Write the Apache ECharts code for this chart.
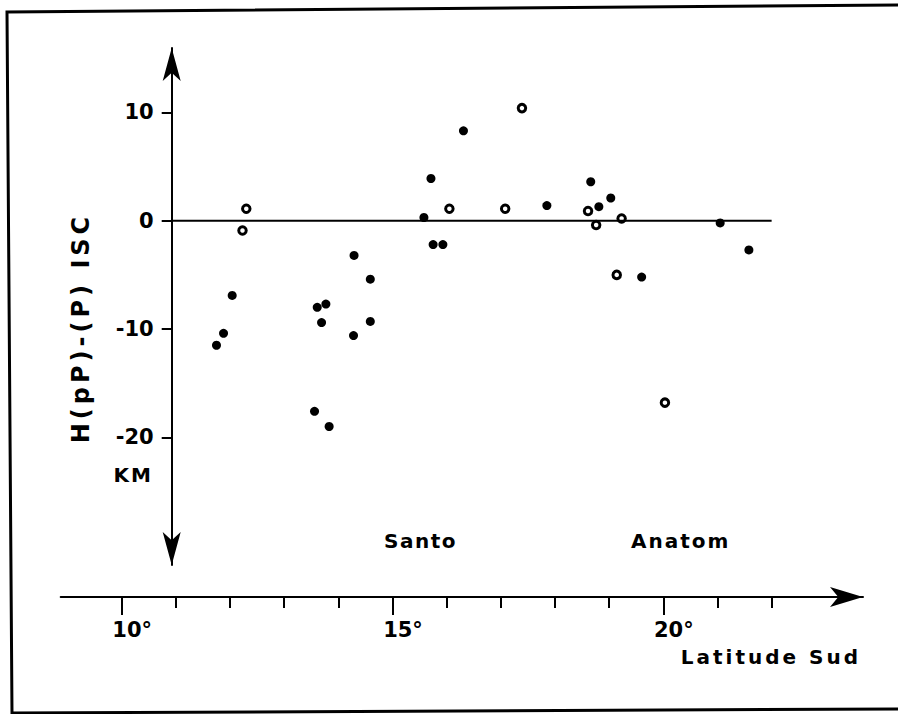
<!DOCTYPE html>
<html>
<head>
<meta charset="utf-8">
<script src="https://cdn.jsdelivr.net/npm/echarts@6/dist/echarts.min.js"></script>
<style>
html, body { margin: 0; padding: 0; background: #fff; }
#chart { width: 898px; height: 714px; }
</style>
</head>
<body>
<div id="chart"></div>
<script>
// Séismes : latitude sud (degrés) et écart H(pP)-(P) ISC (km)
const latFilled   = [11.75, 11.88, 12.04, 13.56, 13.61, 13.69, 13.77, 13.83, 14.28, 14.29, 14.59, 14.59,
                     15.58, 15.71, 15.75, 15.93, 16.31, 17.85, 18.66, 18.81, 19.03, 19.60, 21.05, 21.58];
const depthFilled = [-11.5, -10.4, -6.9, -17.6, -8.0, -9.4, -7.7, -19.0, -10.6, -3.2, -5.4, -9.3,
                     0.3, 3.9, -2.2, -2.2, 8.3, 1.4, 3.6, 1.3, 2.1, -5.2, -0.2, -2.7];
const latOpen     = [12.23, 12.30, 16.05, 17.08, 17.39, 18.61, 18.76, 19.14, 19.23, 20.03];
const depthOpen   = [-0.9, 1.1, 1.1, 1.1, 10.4, 0.9, -0.4, -5.0, 0.2, -16.8];

const latTicks    = [10, 11, 12, 13, 14, 15, 16, 17, 18, 19, 20, 21, 22];
const latLabelled = [10, 15, 20];
const depthTicks  = [-20, -10, 0, 10];
const zeroLineEnd = 22;

// axis extents (the two x axes share one scale)
const plotLatMin = 10.923, axisLatMin = 8.874, latMax = 23.687;
const depthMin = -31.79, depthMax = 15.95;

const FONT = 'DejaVu Sans';
const txt = { fontFamily: FONT, fontWeight: 'bold', color: '#000' };

// extra letter spacing for the stencil-like lettering (px)
const spacing = { 'H(pP)-(P) ISC': 4, 'Latitude Sud': 3, 'Santo': 1.5, 'Anatom': 2, 'KM': 2 };

const chart = echarts.init(document.getElementById('chart'), null, { renderer: 'svg' });

const option = {
  animation: false,
  backgroundColor: '#fff',
  grid: [
    { left: 171.7, right: 35, top: 48, bottom: 149 },
    { left: 60.7, right: 35, top: 560, bottom: 117 }
  ],
  xAxis: [
    { gridIndex: 0, type: 'value', min: plotLatMin, max: latMax, show: false },
    {
      gridIndex: 1, type: 'value', position: 'bottom', min: axisLatMin, max: latMax,
      axisLine: { show: true, lineStyle: { color: '#000', width: 2 },
                  symbol: ['none', 'arrow'], symbolSize: [15, 33] },
      axisTick: { show: true, length: 11, lineStyle: { color: '#000', width: 2 }, customValues: latTicks },
      axisLabel: { show: false },
      splitLine: { show: false }
    },
    {
      gridIndex: 1, type: 'value', position: 'bottom', min: axisLatMin, max: latMax,
      axisLine: { show: false },
      axisTick: { show: true, length: 18, lineStyle: { color: '#000', width: 2 }, customValues: latLabelled },
      axisLabel: {
        show: true, customValues: latLabelled, formatter: v => v + '°',
        fontSize: 21, margin: 22, padding: [0, 0, 0, 21], ...txt
      },
      splitLine: { show: false }
    }
  ],
  yAxis: [
    {
      gridIndex: 0, type: 'value', min: depthMin, max: depthMax,
      axisLine: { show: true, lineStyle: { color: '#000', width: 2 },
                  symbol: ['arrow', 'arrow'], symbolSize: [13.5, 33] },
      axisTick: { show: true, length: 10, lineStyle: { color: '#000', width: 2 }, customValues: depthTicks },
      axisLabel: { show: true, customValues: depthTicks, fontSize: 21, margin: 18, ...txt },
      splitLine: { show: false }
    },
    { gridIndex: 1, type: 'value', min: 0, max: 1, show: false }
  ],
  series: [
    {
      type: 'line', xAxisIndex: 0, yAxisIndex: 0, symbol: 'none', silent: true,
      data: [[plotLatMin, 0], [zeroLineEnd, 0]],
      lineStyle: { color: '#000', width: 2 }
    },
    {
      type: 'scatter', xAxisIndex: 0, yAxisIndex: 0, symbol: 'circle', symbolSize: 9,
      data: latFilled.map((x, i) => [x, depthFilled[i]]),
      itemStyle: { color: '#000', opacity: 1 }
    },
    {
      type: 'scatter', xAxisIndex: 0, yAxisIndex: 0, symbol: 'circle', symbolSize: 7.5,
      data: latOpen.map((x, i) => [x, depthOpen[i]]),
      itemStyle: { color: '#fff', borderColor: '#000', borderWidth: 3, opacity: 1 }
    }
  ],
  graphic: [
    { type: 'polyline', shape: { points: [[899, 5], [7, 12], [12, 713], [899, 709]] },
      style: { stroke: '#000', lineWidth: 3, fill: null } },
    { type: 'text', x: 81, y: 328, rotation: Math.PI / 2,
      style: { text: 'H(pP)-(P) ISC', fontSize: 24, fontFamily: FONT, fontWeight: 'bold', fill: '#000',
               textAlign: 'center', textVerticalAlign: 'middle' } },
    { type: 'text', x: 153, y: 475,
      style: { text: 'KM', fontSize: 20, fontFamily: FONT, fontWeight: 'bold', fill: '#000',
               textAlign: 'right', textVerticalAlign: 'middle' } },
    { type: 'text', x: 384, y: 541,
      style: { text: 'Santo', fontSize: 20, fontFamily: FONT, fontWeight: 'bold', fill: '#000',
               textAlign: 'left', textVerticalAlign: 'middle' } },
    { type: 'text', x: 631, y: 541,
      style: { text: 'Anatom', fontSize: 20, fontFamily: FONT, fontWeight: 'bold', fill: '#000',
               textAlign: 'left', textVerticalAlign: 'middle' } },
    { type: 'text', x: 861, y: 657,
      style: { text: 'Latitude Sud', fontSize: 20, fontFamily: FONT, fontWeight: 'bold', fill: '#000',
               textAlign: 'right', textVerticalAlign: 'middle' } }
  ]
};

chart.setOption(option);

function applySpacing() {
  document.querySelectorAll('#chart svg text').forEach(t => {
    const s = spacing[t.textContent];
    if (s) t.style.letterSpacing = s + 'px';
  });
}
applySpacing();
chart.on('finished', applySpacing);
setTimeout(applySpacing, 0);
</script>
</body>
</html>
